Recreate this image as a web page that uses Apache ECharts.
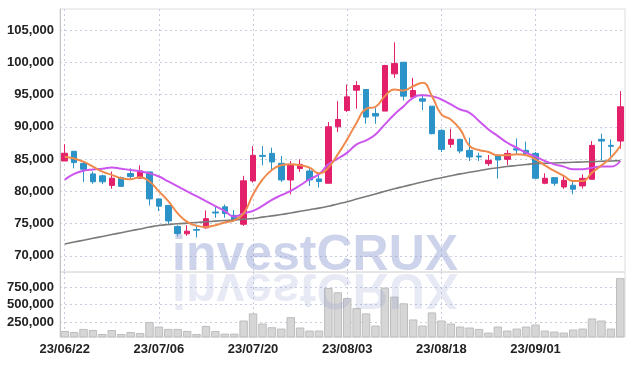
<!DOCTYPE html>
<html>
<head>
<meta charset="utf-8">
<script src="https://cdn.jsdelivr.net/npm/echarts@6/dist/echarts.min.js"></script>
<style>
  html, body { margin: 0; padding: 0; background: #fff; }
  #chart { width: 634px; height: 366px; }
</style>
</head>
<body>
<div id="chart"></div>
<script>
// trading days shown on the chart
const dates = [
  '23/06/22', '23/06/23', '23/06/26', '23/06/27', '23/06/28', '23/06/29', '23/06/30', '23/07/03', '23/07/04', '23/07/05',
  '23/07/06', '23/07/07', '23/07/10', '23/07/11', '23/07/12', '23/07/13', '23/07/14', '23/07/17', '23/07/18', '23/07/19',
  '23/07/20', '23/07/21', '23/07/24', '23/07/25', '23/07/26', '23/07/27', '23/07/28', '23/07/31', '23/08/01', '23/08/02',
  '23/08/03', '23/08/04', '23/08/07', '23/08/08', '23/08/09', '23/08/10', '23/08/11', '23/08/14', '23/08/16', '23/08/17',
  '23/08/18', '23/08/21', '23/08/22', '23/08/23', '23/08/24', '23/08/25', '23/08/28', '23/08/29', '23/08/30', '23/08/31',
  '23/09/01', '23/09/04', '23/09/05', '23/09/06', '23/09/07', '23/09/08', '23/09/11', '23/09/12', '23/09/13', '23/09/14'
];

const opens = [
  84700, 86200, 84340, 82700, 82400, 80920, 82140, 82760, 82040, 83010,
  78830, 77810, 74540, 73420, 74080, 74340, 76790, 77600, 76280, 74900,
  81610, 85570, 85880, 84340, 81760, 83520, 83150, 81920, 81250, 90000,
  92530, 95670, 95780, 92070, 92430, 98200, 100000, 94590, 94330, 93200,
  89440, 87280, 88050, 86350, 85470, 84290, 85580, 84960, 86600, 86350,
  85880, 81250, 82120, 80680, 80940, 80840, 81870, 88050, 87120, 87790
];
const closes = [
  85900, 84450, 83420, 81480, 81480, 82040, 80770, 82300, 83160, 78830,
  77700, 75410, 73470, 73830, 73980, 75770, 76640, 76580, 75510, 81630,
  85570, 85420, 84550, 81760, 84180, 84180, 81760, 81510, 90000, 91130,
  94640, 96390, 91500, 91660, 99490, 99790, 94750, 95620, 93970, 88930,
  86500, 88050, 86250, 85320, 85320, 84800, 84860, 85880, 86400, 85830,
  82020, 82020, 81250, 81710, 80320, 82020, 87120, 87790, 86970, 93100
];
const lows = [
  84700, 83570, 81430, 81180, 81120, 80410, 80770, 81790, 81940, 77810,
  76940, 74750, 73010, 73110, 72850, 74230, 75920, 75920, 75260, 74640,
  81350, 84030, 83150, 81450, 79550, 83000, 80840, 80580, 81250, 89180,
  92270, 92790, 90470, 90470, 92430, 97580, 94080, 94490, 92580, 88820,
  86090, 86760, 85880, 84700, 84700, 83930, 81970, 84030, 85730, 85470,
  82020, 81100, 80840, 80380, 79550, 80430, 81870, 84800, 85370, 86610
];
const highs = [
  87300, 86200, 84540, 83060, 82600, 83060, 82300, 83570, 84030, 83010,
  78900, 77810, 74750, 74750, 74540, 77040, 77700, 77960, 77090, 82400,
  87020, 87020, 86760, 85470, 84700, 84960, 83670, 82640, 90730, 93970,
  96550, 97060, 95780, 92890, 99600, 103090, 100050, 97580, 95000, 93200,
  89590, 89700, 88150, 88300, 85990, 85630, 85700, 86400, 88200, 87690,
  86090, 82790, 82120, 82380, 81610, 82640, 87790, 88920, 88050, 95520
];
const volumes = [
  125000, 110000, 154000, 139000, 82000, 139000, 82000, 110000, 96000, 254000,
  188000, 154000, 154000, 125000, 82000, 197000, 125000, 87000, 87000, 274000,
  375000, 231000, 178000, 159000, 322000, 174000, 131000, 131000, 738000, 677000,
  595000, 451000, 375000, 202000, 743000, 614000, 519000, 289000, 202000, 389000,
  274000, 231000, 188000, 174000, 154000, 102000, 188000, 131000, 159000, 188000,
  217000, 131000, 116000, 102000, 145000, 159000, 303000, 274000, 159000, 878000
];

// moving average lines
const ma5 = [
  85360, 85100, 84590, 83830, 83060, 82550, 82040, 81890, 82200, 81530,
  80000, 78470, 76590, 75260, 74650, 74490, 74750, 75160, 75510, 76590,
  79500, 81800, 83310, 84030, 84180, 84030, 83670, 82790, 83670, 85730,
  88050, 90630, 92790, 93100, 94750, 95780, 95620, 96290, 96810, 94750,
  91910, 91140, 89590, 87020, 86400, 86090, 85580, 85580, 85730, 85580,
  84960, 84030, 83150, 82380, 81610, 81610, 82900, 84030, 85220, 87020
];
const ma10 = [
  81800, 82700, 83200, 83400, 83500, 83700, 83500, 83300, 83100, 82800,
  82300, 81530, 80770, 80000, 79240, 78470, 77700, 76940, 76080, 76590,
  76980, 77750, 78680, 79400, 80070, 80940, 81870, 82640, 84180, 85060,
  85990, 87280, 87900, 88820, 90370, 91910, 93200, 94490, 94900, 94750,
  94230, 93460, 92680, 92170, 90880, 89590, 88560, 87530, 86760, 85990,
  85370, 84700, 84180, 83830, 83410, 83410, 83670, 83830, 83830, 84700
];
const maLong = [
  71850, 72140, 72430, 72720, 73010, 73300, 73590, 73880, 74170, 74460,
  74700, 74850, 74980, 75080, 75180, 75280, 75380, 75480, 75580, 75680,
  75800, 76000, 76200, 76400, 76650, 76900, 77150, 77400, 77700, 78050,
  78400, 78800, 79200, 79600, 80000, 80400, 80750, 81100, 81450, 81800,
  82100, 82400, 82700, 82950, 83200, 83450, 83650, 83850, 84000, 84150,
  84300, 84350, 84400, 84450, 84500, 84550, 84600, 84650, 84700, 84750
];

const priceTicks = [70000, 75000, 80000, 85000, 90000, 95000, 100000, 105000];
const volumeTicks = [250000, 500000, 750000];

const chart = echarts.init(document.getElementById('chart'));

const labelFont = "'Liberation Sans', Arial, sans-serif";
const labelStyle = { color: '#222', fontSize: 13, fontWeight: 'bold', fontFamily: labelFont };
const dotted = { show: true, lineStyle: { color: '#c9cde0', type: [2, 3], width: 1 } };

const candleData = opens.map((o, i) => [o, closes[i], lows[i], highs[i]]);

chart.setOption({
  animation: false,
  grid: [
    { left: 60, right: 9, top: 9, height: 263, outerBoundsMode: 'none', show: true, borderColor: '#dcdcdc', borderWidth: 1 },
    { left: 60, right: 9, top: 272, height: 65, outerBoundsMode: 'none', show: true, borderColor: '#dcdcdc', borderWidth: 1 }
  ],
  xAxis: [
    {
      type: 'category', gridIndex: 0, data: dates, boundaryGap: true,
      axisLine: { show: false }, axisTick: { show: false }, axisLabel: { show: false },
      splitLine: Object.assign({ interval: 9, alignWithLabel: true }, dotted)
    },
    {
      type: 'category', gridIndex: 1, data: dates, boundaryGap: true,
      axisLine: { show: false }, axisTick: { show: false },
      axisLabel: Object.assign({ interval: 9, margin: 6 }, labelStyle),
      splitLine: Object.assign({ interval: 9, alignWithLabel: true }, dotted)
    }
  ],
  yAxis: [
    {
      type: 'value', gridIndex: 0, min: 67500, max: 108250, scale: true,
      axisLine: { show: true, lineStyle: { color: '#c4c4c4' } },
      axisTick: { show: false, customValues: priceTicks },
      axisLabel: Object.assign({
        customValues: priceTicks, margin: 6,
        formatter: v => v.toLocaleString('en-US')
      }, labelStyle),
      splitLine: dotted
    },
    {
      type: 'value', gridIndex: 1, min: 38800, max: 965500,
      axisLine: { show: true, lineStyle: { color: '#c4c4c4' } },
      axisTick: { show: false, customValues: volumeTicks },
      axisLabel: Object.assign({ customValues: volumeTicks, margin: 6 }, labelStyle),
      splitLine: dotted
    }
  ],
  graphic: [
    {
      type: 'text', x: 172, y: 281, z: 100, silent: true,
      style: { text: 'investCRUX', font: "bold 50px 'Liberation Sans', sans-serif", fill: 'rgba(135,150,205,0.42)', textVerticalAlign: 'bottom' }
    },
    {
      type: 'text', x: 172, y: 263, scaleY: -1, z: 100, silent: true,
      style: { text: 'investCRUX', font: "bold 50px 'Liberation Sans', sans-serif", fill: 'rgba(135,150,205,0.2)', textVerticalAlign: 'bottom' }
    }
  ],
  series: [
    {
      type: 'candlestick', xAxisIndex: 0, yAxisIndex: 0, data: candleData, barWidth: 6,
      itemStyle: { color: '#e3206a', color0: '#2c93c8', borderColor: '#e3206a', borderColor0: '#2c93c8', borderWidth: 1 }
    },
    { type: 'line', xAxisIndex: 0, yAxisIndex: 0, data: maLong, symbol: 'none', smooth: true, lineStyle: { color: '#7a7a7a', width: 1.6 } },
    { type: 'line', xAxisIndex: 0, yAxisIndex: 0, data: ma10, symbol: 'none', smooth: true, lineStyle: { color: '#cc55ee', width: 2 } },
    { type: 'line', xAxisIndex: 0, yAxisIndex: 0, data: ma5, symbol: 'none', smooth: true, lineStyle: { color: '#ef8a4c', width: 2 } },
    {
      type: 'bar', xAxisIndex: 1, yAxisIndex: 1, data: volumes, barWidth: '90%',
      itemStyle: { color: '#d6d6d6', borderColor: '#bdbdbd', borderWidth: 1 }
    }
  ]
});
</script>
</body>
</html>
